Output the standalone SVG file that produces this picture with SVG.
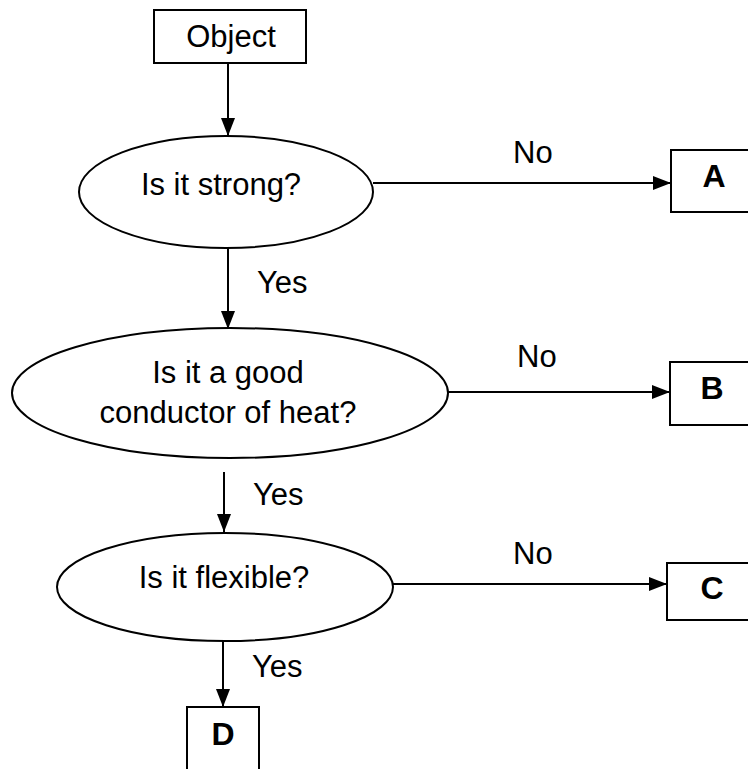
<svg xmlns="http://www.w3.org/2000/svg" width="748" height="769" viewBox="0 0 748 769">
<style>
.box{fill:#fff;stroke:#000;stroke-width:2}
.ell{fill:#fff;stroke:#000;stroke-width:2}
.edge{fill:none;stroke:#000;stroke-width:2}
.t{font-family:"Liberation Sans",Arial,sans-serif;font-size:31px;fill:#000}
.c{text-anchor:middle}
.b{font-weight:bold;font-size:32px}
</style>
<defs>
<marker id="arr" viewBox="0 0 18 14" refX="18" refY="7" markerWidth="18" markerHeight="14" markerUnits="userSpaceOnUse" orient="auto">
<path d="M0,0 L18,7 L0,14 z" fill="#000"/>
</marker>
</defs>
<rect width="748" height="769" fill="#fff"/>
<g id="connectors">
<line class="edge" x1="228" y1="63" x2="228" y2="136" marker-end="url(#arr)"/>
<line class="edge" x1="373" y1="183" x2="671" y2="183" marker-end="url(#arr)"/>
<line class="edge" x1="228" y1="248" x2="228" y2="329" marker-end="url(#arr)"/>
<line class="edge" x1="448" y1="392" x2="670" y2="392" marker-end="url(#arr)"/>
<line class="edge" x1="224" y1="472" x2="224" y2="532" marker-end="url(#arr)"/>
<line class="edge" x1="393" y1="584" x2="667" y2="584" marker-end="url(#arr)"/>
<line class="edge" x1="223" y1="640" x2="223" y2="707" marker-end="url(#arr)"/>
<text class="t" x="513" y="163">No</text>
<text class="t" x="257" y="293">Yes</text>
<text class="t" x="517" y="367">No</text>
<text class="t" x="253" y="505">Yes</text>
<text class="t" x="513" y="564">No</text>
<text class="t" x="252" y="677">Yes</text>
</g>
<g id="object">
<rect class="box" x="154" y="10" width="152" height="53"/>
<text class="t c" x="231" y="47">Object</text>
</g>
<g id="strong">
<ellipse class="ell" cx="226" cy="192" rx="147" ry="56"/>
<text class="t c" x="221" y="195">Is it strong?</text>
</g>
<g id="conductor">
<ellipse class="ell" cx="230" cy="393" rx="218" ry="65"/>
<text class="t c" x="228" y="383">Is it a good</text>
<text class="t c" x="228" y="423">conductor of heat?</text>
</g>
<g id="flexible">
<ellipse class="ell" cx="225" cy="587" rx="168" ry="54"/>
<text class="t c" x="224" y="588">Is it flexible?</text>
</g>
<g id="A">
<rect class="box" x="671" y="150" width="100" height="62"/>
<text class="t c b" x="714" y="187">A</text>
</g>
<g id="B">
<rect class="box" x="670" y="362" width="100" height="63"/>
<text class="t c b" x="712" y="399">B</text>
</g>
<g id="C">
<rect class="box" x="667" y="563" width="100" height="57"/>
<text class="t c b" x="712" y="599">C</text>
</g>
<g id="D">
<rect class="box" x="187" y="707" width="72" height="80"/>
<text class="t c b" x="223" y="745">D</text>
</g>
</svg>
